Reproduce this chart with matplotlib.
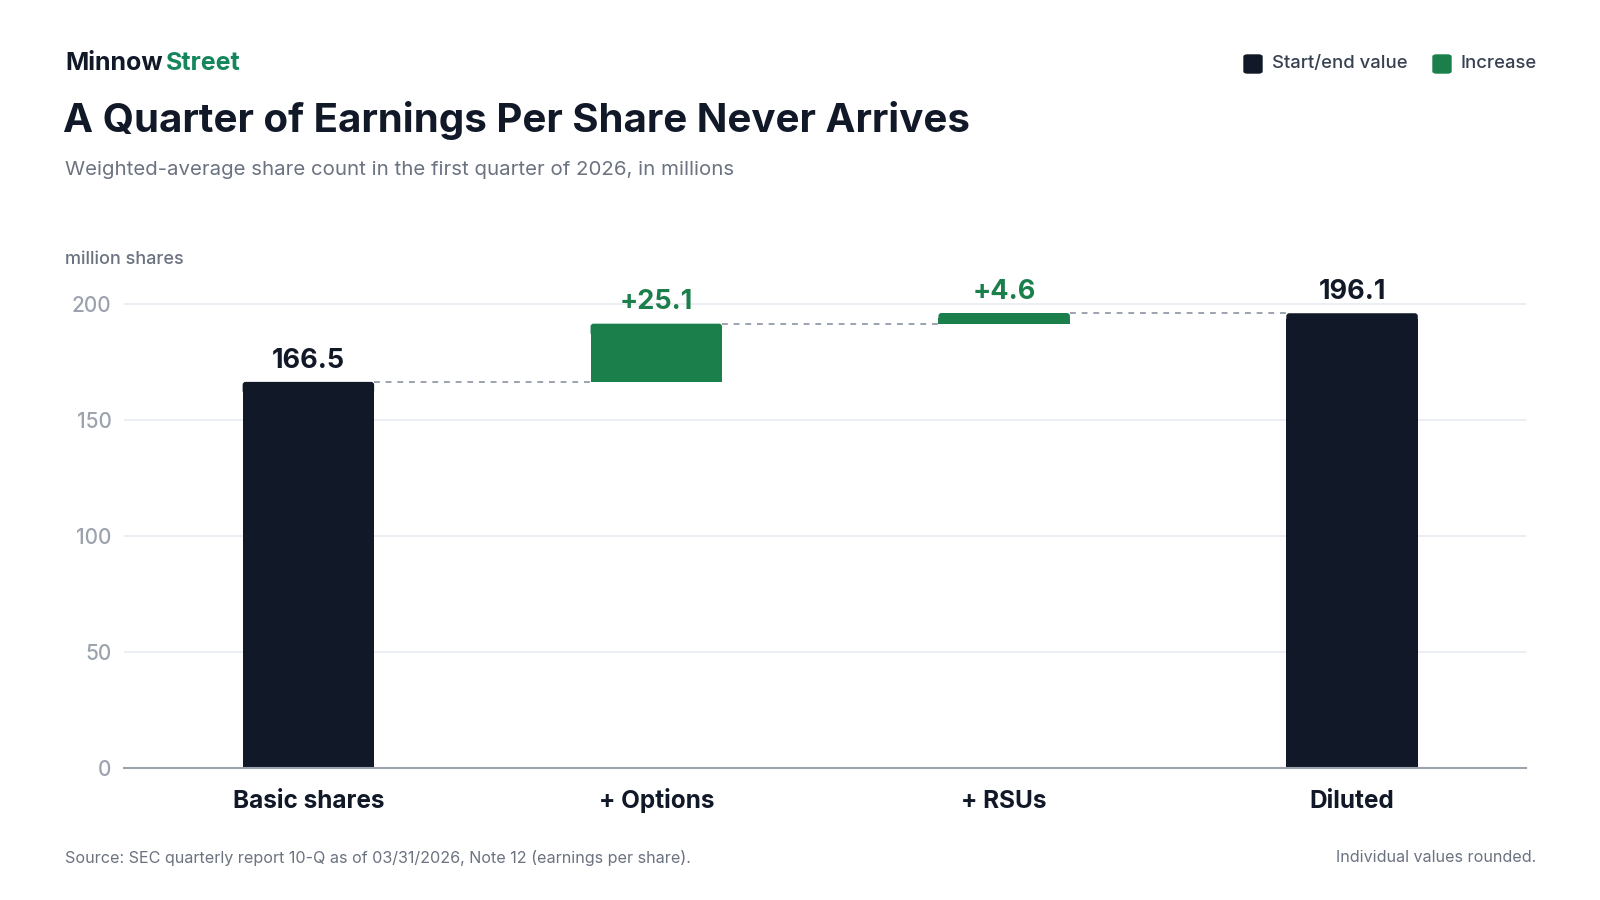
import numpy as np
import matplotlib.pyplot as plt
from matplotlib.patches import FancyBboxPatch

# Data
categories = ['Basic shares', '+ Options', '+ RSUs', 'Diluted']
values = [166.5, 25.1, 4.6, 196.1]
kinds = ['total', 'increase', 'increase', 'total']
labels = ['166.5', '+25.1', '+4.6', '196.1']
y_ticks = [0, 50, 100, 150, 200]

DARK = '#111827'
GREEN = '#1b7f4c'
GRAY = '#6b7280'
LIGHT = '#9ca3af'

plt.rcParams['font.family'] = ['Inter', 'DejaVu Sans']

fig = plt.figure(figsize=(16, 9), dpi=100)
ax = fig.add_axes([124 / 1600, 132 / 900, 1402 / 1600, 487 / 900])
xlim = (-0.53, 3.5)
ylim = (0, 210)

# waterfall bottoms/tops
bottoms, tops = [], []
running = 0.0
for v, k in zip(values, kinds):
    if k == 'total':
        bottoms.append(0.0)
        tops.append(v)
        running = v
    else:
        bottoms.append(running)
        running += v
        tops.append(running)

x = np.arange(len(categories))
width = 0.378
colors = [DARK if k == 'total' else GREEN for k in kinds]
bottoms = np.array(bottoms)
tops = np.array(tops)

# rounded top corners: square body + rounded cap
ax_w_px, ax_h_px = 1402, 487
xu = (xlim[1] - xlim[0]) / ax_w_px
yu = (ylim[1] - ylim[0]) / ax_h_px
caps = np.minimum(6 * yu, (tops - bottoms) / 2)
ax.bar(x, tops - caps - bottoms, bottom=bottoms, width=width, color=colors,
       zorder=3, lw=0)
for xi, t, c, cp in zip(x, tops, colors, caps):
    ax.add_patch(FancyBboxPatch((xi - width / 2, t - 2 * cp), width, 2 * cp,
                                boxstyle='round,pad=0,rounding_size=%f' % (3 * xu),
                                mutation_aspect=yu / xu, color=c, lw=0, zorder=3))

# connectors
for i in range(len(x) - 1):
    ax.plot([x[i] + width / 2, x[i + 1] - width / 2], [tops[i], tops[i]],
            color=LIGHT, lw=1.4, ls=(0, (3, 3)), zorder=2)

# value labels
for i, lab in enumerate(labels):
    ax.annotate(lab, (x[i], tops[i]), xytext=(0, 6), textcoords='offset points',
                ha='center', va='bottom', fontsize=19.5, fontweight='bold',
                color=DARK if kinds[i] == 'total' else GREEN)

ax.set_xlim(*xlim)
ax.set_ylim(*ylim)
ax.set_yticks(y_ticks)
ax.set_xticks(x)
ax.set_xticklabels([])
# category labels on a common baseline
for xi, cat in zip(x, categories):
    ax.text(xi, -40 / 487, cat, transform=ax.get_xaxis_transform(),
            ha='center', va='baseline', fontsize=17.5, fontweight='bold', color=DARK)
ax.tick_params(axis='x', length=0)
ax.tick_params(axis='y', length=0, pad=9, labelsize=15, labelcolor=LIGHT)
for lab in ax.get_yticklabels():
    lab.set_fontweight('medium')
ax.grid(axis='y', color='#e8ebf0', lw=1.2, zorder=0)
for s in ['top', 'right', 'left']:
    ax.spines[s].set_visible(False)
ax.spines['bottom'].set_color(LIGHT)
ax.spines['bottom'].set_linewidth(1.5)
ax.spines['bottom'].set_zorder(4)

# header
fig.text(65 / 1600, 1 - 64 / 900, 'Minnow', fontsize=18, fontweight='bold',
         color=DARK, va='center')
fig.text(166 / 1600, 1 - 64 / 900, 'Street', fontsize=18, fontweight='bold',
         color='#15855c', va='center')
fig.text(63 / 1600, 1 - 120 / 900, 'A Quarter of Earnings Per Share Never Arrives',
         fontsize=29, fontweight='bold', color=DARK, va='center')
fig.text(65 / 1600, 1 - 170 / 900,
         'Weighted-average share count in the first quarter of 2026, in millions',
         fontsize=14.7, color=GRAY, va='center')
fig.text(65 / 1600, 1 - 259 / 900, 'million shares', fontsize=13,
         color=GRAY, va='center', fontweight='medium')

# legend
leg_items = [('Start/end value', DARK), ('Increase', GREEN)]
lx = [1244, 1433]
for (name, col), x0 in zip(leg_items, lx):
    fig.patches.append(FancyBboxPatch((x0 / 1600, 1 - 73 / 900), 18 / 1600, 18 / 900,
                                      boxstyle='round,pad=0,rounding_size=0.002',
                                      transform=fig.transFigure, color=col))
    fig.text((x0 + 28) / 1600, 1 - 64 / 900, name, fontsize=13.3, color='#374151',
             va='center', fontweight='medium')

# footer
fig.text(65 / 1600, 1 - 858 / 900,
         'Source: SEC quarterly report 10-Q as of 03/31/2026, Note 12 (earnings per share).',
         fontsize=11.6, color=GRAY, va='center')
fig.text(1536 / 1600, 1 - 858 / 900, 'Individual values rounded.',
         fontsize=11.6, color=GRAY, va='center', ha='right')

fig.savefig('out.png', dpi=100, facecolor='white')
